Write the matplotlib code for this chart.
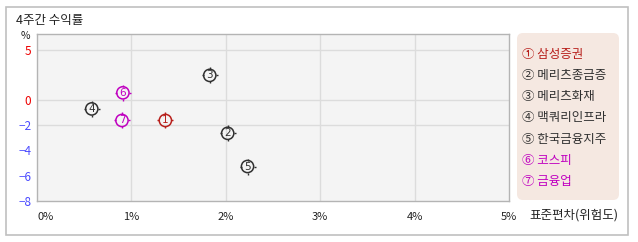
import numpy as np
import matplotlib
matplotlib.use("Agg")
import matplotlib.pyplot as plt
from matplotlib.path import Path
from matplotlib.patches import FancyBboxPatch, Rectangle

plt.rcParams['font.family'] = ['Noto Sans CJK KR', 'DejaVu Sans']

# 데이터
names = ['삼성증권', '메리츠종금증', '메리츠화재', '맥쿼리인프라', '한국금융지주', '코스피', '금융업']
marks = ['①', '②', '③', '④', '⑤', '⑥', '⑦']
std_dev = [1.36, 2.02, 1.83, 0.58, 2.23, 0.91, 0.90]   # 표준편차 (%)
returns = [-1.62, -2.64, 2.47, -0.70, -5.28, 0.73, -1.62]  # 4주간 수익률 (%)
x_ticks = [0, 1, 2, 3, 4, 5]
y_ticks = [5, 0, -2, -4, -6, -8]
y_grid = [5, 0, -2]

RED = '#b8201c'
DARK = '#303030'
MAG = '#c000c0'
colors = [RED, DARK, DARK, DARK, DARK, MAG, MAG]

fig = plt.figure(figsize=(6.38, 2.42), dpi=100)
fig.patch.set_facecolor('white')

# 바깥 테두리
fig.patches.append(Rectangle((6, 7), 622, 228, transform=None, fill=False,
                             edgecolor='#c0c0c0', linewidth=1.2))

ax = fig.add_axes([37 / 638, 41.3 / 242, 472 / 638, 166.7 / 242])
ax.set_facecolor('#f4f4f4')


# 양수/음수 구간 스케일이 다름
def fwd(y):
    y = np.asarray(y, dtype=float)
    return np.where(y >= 0, y * 10.0, y * 12.55)


def inv(v):
    v = np.asarray(v, dtype=float)
    return np.where(v >= 0, v / 10.0, v / 12.55)


ax.set_yscale('function', functions=(fwd, inv))
ax.set_xlim(0, 5)
ax.set_ylim(-8, 6.6)

for g in x_ticks[1:-1]:
    ax.axvline(g, color='#dcdcdc', linewidth=1.0, zorder=0)
for g in y_grid:
    ax.axhline(g, color='#dcdcdc', linewidth=1.0, zorder=0)

for s in ax.spines.values():
    s.set_color('#b4b4b4')
    s.set_linewidth(1.0)

ax.set_xticks(x_ticks)
ax.set_xticklabels([f'{t}%' for t in x_ticks], fontsize=8, color='#222222')
ax.set_yticks(y_ticks)
ax.set_yticklabels([str(t).replace('-', '\u2212') for t in y_ticks], fontsize=8.5)
for lab, t in zip(ax.get_yticklabels(), y_ticks):
    lab.set_color('#ee0000' if t >= 0 else '#4a4aff')
ax.tick_params(axis='both', length=0)
ax.tick_params(axis='y', pad=4)
ax.tick_params(axis='x', pad=8)
ax.get_xticklabels()[0].set_horizontalalignment('left')

# 마커: 원 + 작은 눈금
tick_path = Path([(0, 0.38), (0, 0.5), (0, -0.38), (0, -0.5),
                  (0.38, 0), (0.5, 0), (-0.38, 0), (-0.5, 0)],
                 [Path.MOVETO, Path.LINETO] * 4)
for i in range(len(names)):
    ax.scatter(std_dev[i], returns[i], s=78, marker='o', facecolors='none',
               edgecolors=colors[i], linewidths=1.1, zorder=3)
    ax.scatter(std_dev[i], returns[i], s=125, marker=tick_path,
               color=colors[i], linewidths=1.0, zorder=3)
    ax.text(std_dev[i], returns[i], str(i + 1), color=colors[i], fontsize=7.5,
            ha='center', va='center', family='DejaVu Sans', zorder=4)

fig.text(16 / 638, 1 - 20.5 / 242, '4주간 수익률', fontsize=9, color='#222222',
         ha='left', va='center')
fig.text(25 / 638, 1 - 36 / 242, '%', fontsize=7.5, color='#222222',
         ha='center', va='center')
fig.text(529 / 638, 1 - 215 / 242, '표준편차(위험도)', fontsize=9, color='#222222',
         ha='left', va='center')

# 범례 박스
box = FancyBboxPatch((5.19, 0.44), 0.98, 1.63, boxstyle='round,pad=0.02,rounding_size=0.06',
                     transform=fig.dpi_scale_trans, facecolor='#f5e8e1',
                     edgecolor='none')
fig.patches.append(box)
for i in range(len(names)):
    y_px = 54.3 + 21.2 * i
    fig.text(521.5 / 638, 1 - y_px / 242, f'{marks[i]} {names[i]}', fontsize=9,
             color=colors[i], ha='left', va='center')

fig.savefig('out.png', dpi=100, facecolor='white')
